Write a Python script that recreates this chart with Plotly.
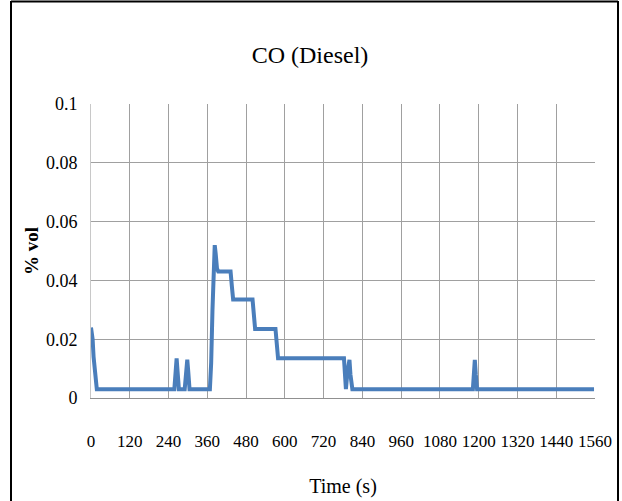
import plotly.graph_objects as go

# Data (time in s, CO in % vol)
time_s = [0, 2, 5, 8, 12, 18, 30, 258, 262, 265, 268, 272, 290, 295, 298, 301, 305,
          368, 372, 376, 380, 383, 386, 390, 394, 432, 436, 440, 500, 504, 508,
          571, 575, 579, 783, 786, 789, 793, 797, 800, 803, 806, 809,
          1182, 1185, 1188, 1191, 1195, 1557]
co_vol = [0.024, 0.023, 0.020, 0.014, 0.008, 0.003, 0.003, 0.003, 0.009, 0.0135, 0.009, 0.003,
          0.003, 0.009, 0.013, 0.009, 0.003,
          0.003, 0.012, 0.030, 0.045, 0.052, 0.049, 0.044, 0.043, 0.043, 0.038, 0.0335,
          0.0335, 0.028, 0.0235, 0.0235, 0.018, 0.0135, 0.0135, 0.008, 0.003, 0.008, 0.013,
          0.013, 0.008, 0.003, 0.003, 0.003, 0.009, 0.013, 0.008, 0.003, 0.003]

x_ticks = list(range(0, 1561, 120))
y_ticks = [0, 0.02, 0.04, 0.06, 0.08, 0.1]
y_tick_labels = ["0", "0.02", "0.04", "0.06", "0.08", "0.1"]

serif = "Liberation Serif"
grid = "#a0a0a0"

fig = go.Figure()
fig.add_trace(go.Scatter(x=time_s, y=co_vol, mode="lines",
                         line=dict(color="#4a7ebb", width=4), showlegend=False,
                         hoverinfo="skip"))

L, R, T, B = 91, 27, 104, 103
W, H = 622, 501
pw, ph = W - L - R, H - T - B

def px(xp):
    return (xp - L) / pw

def py(yp):
    return (H - B - yp) / ph

fig.update_layout(
    width=W, height=H,
    margin=dict(l=L, r=R, t=T, b=B, autoexpand=False),
    paper_bgcolor="white", plot_bgcolor="white",
    title=dict(text="CO (Diesel)", x=(310) / W, xanchor="center", y=1 - 55 / H,
               yanchor="middle", font=dict(family=serif, size=24, color="black")),
    xaxis=dict(range=[0, 1560], tickvals=x_ticks, showgrid=True, gridcolor=grid,
               gridwidth=1, zeroline=False, showline=True, linecolor="#909090",
               linewidth=1, ticks="", ticklabelstandoff=28, automargin=False,
               tickfont=dict(family=serif, size=17, color="black"),
               title=dict(text="Time (s)", standoff=28,
                          font=dict(family=serif, size=20, color="black"))),
    yaxis=dict(range=[0, 0.1], tickvals=y_ticks, ticktext=y_tick_labels, showgrid=True,
               gridcolor=grid, gridwidth=1, zeroline=False, showline=True,
               linecolor="#c8c8c8", linewidth=1, ticks="", ticklabelstandoff=9,
               automargin=False,
               tickfont=dict(family=serif, size=18, color="black"),
               title=dict(text="<b>% vol</b>", standoff=2,
                          font=dict(family=serif, size=19, color="black"))),
    shapes=[
        dict(type="line", xref="paper", yref="paper", x0=px(11), x1=px(11),
             y0=py(1), y1=py(520), line=dict(color="black", width=2)),
        dict(type="line", xref="paper", yref="paper", x0=px(618), x1=px(618),
             y0=py(1), y1=py(520), line=dict(color="black", width=2)),
        dict(type="line", xref="paper", yref="paper", x0=px(11), x1=px(618),
             y0=py(1.5), y1=py(1.5), line=dict(color="black", width=2)),
    ],
)

fig.write_html("out.html")
